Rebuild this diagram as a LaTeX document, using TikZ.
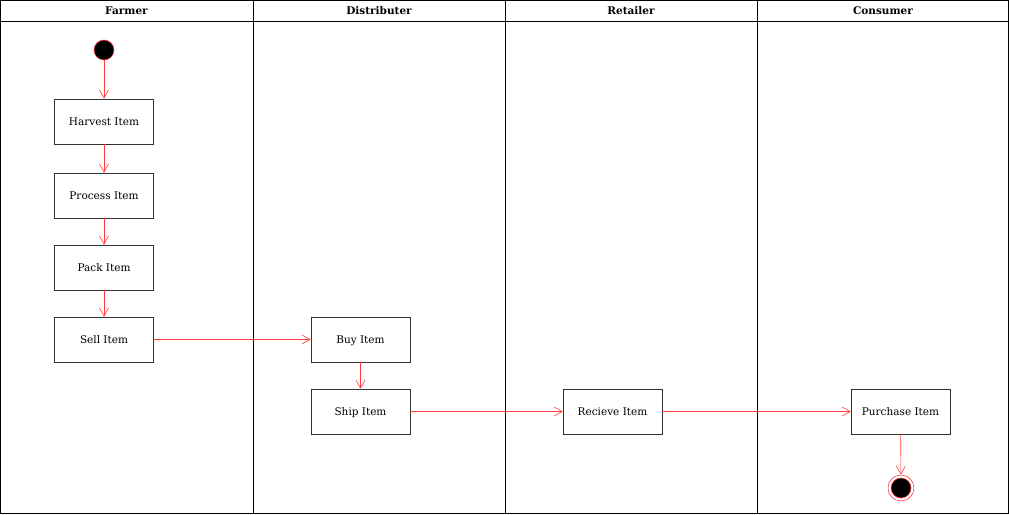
\documentclass[tikz,border=0pt]{standalone}
\usepackage{fontspec}
\setmainfont{DejaVu Serif}
\usetikzlibrary{arrows.meta}
\definecolor{flowred}{HTML}{FF3B3B}
\definecolor{boxline}{HTML}{333333}
\begin{document}
\begin{tikzpicture}[x=1pt,y=-1pt,
  lane/.style={draw=black,line width=0.9pt},
  lanehead/.style={font=\fontsize{10.5}{12}\selectfont\bfseries},
  action/.style={draw=boxline,line width=0.7pt,minimum width=99pt,minimum height=45pt,inner sep=0pt,text height=9pt,text depth=1pt,font=\fontsize{10.5}{12}\selectfont},
  flow/.style={draw=flowred,line width=0.6pt,-{Straight Barb[length=8pt,width=9pt,line width=0.6pt]}},
  startnode/.style={circle,draw=flowred,fill=black,minimum size=20pt,inner sep=0pt,line width=0.6pt},
  endring/.style={circle,draw=flowred,minimum size=26pt,inner sep=0pt,line width=0.6pt},
  endnode/.style={circle,draw=flowred,fill=black,minimum size=20pt,inner sep=0pt,line width=0.6pt}]
\useasboundingbox (0,0) rectangle (1009,514);
% swimlanes
\draw[lane] (0.5,0.5) rectangle (1008.5,513.5);
\draw[lane] (0.5,21) -- (1008.5,21);
\draw[lane] (253,0.5) -- (253,513.5);
\draw[lane] (505,0.5) -- (505,513.5);
\draw[lane] (757,0.5) -- (757,513.5);
\node[lanehead] (hfarmer) at (126.5,11) {Farmer};
\node[lanehead] (hdist) at (379,11) {Distributer};
\node[lanehead] (hretail) at (631,11) {Retailer};
\node[lanehead] (hcons) at (883,11) {Consumer};
% activities
\node[startnode] (start) at (104,50) {};
\node[action] (harvest) at (104,121.5) {Harvest Item};
\node[action] (process) at (104,195.5) {Process Item};
\node[action] (pack) at (104,267.5) {Pack Item};
\node[action] (sell) at (104,339.5) {Sell Item};
\node[action] (buy) at (360.5,339.5) {Buy Item};
\node[action] (ship) at (360.5,411.5) {Ship Item};
\node[action] (recieve) at (612.5,411.5) {Recieve Item};
\node[action] (purchase) at (900.5,411.5) {Purchase Item};
\node[endring] (endo) at (901,488) {};
\node[endnode] (endi) at (901,488) {};
% control flow
\draw[flow] (start) -- (harvest);
\draw[flow] (harvest) -- (process);
\draw[flow] (process) -- (pack);
\draw[flow] (pack) -- (sell);
\draw[flow] (sell) -- (buy);
\draw[flow] (buy) -- (ship);
\draw[flow] (ship) -- (recieve);
\draw[flow] (recieve) -- (purchase);
\draw[flow] (purchase) -- (endo);
\end{tikzpicture}
\end{document}
